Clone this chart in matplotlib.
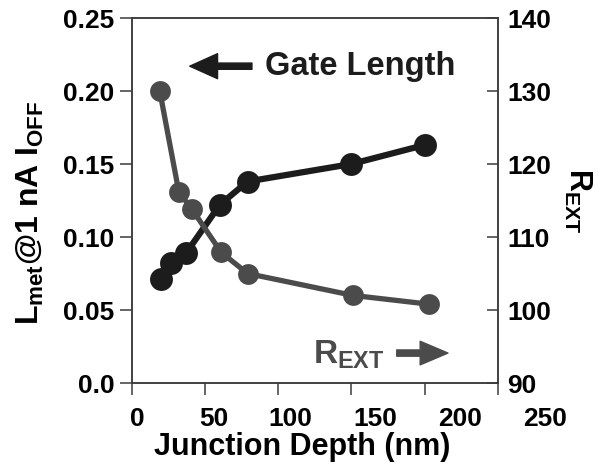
import numpy as np
import matplotlib
matplotlib.use('Agg')
import matplotlib.pyplot as plt
import matplotlib.transforms as mtransforms

plt.rcParams['font.family'] = ['Liberation Sans', 'DejaVu Sans']
plt.rcParams['font.weight'] = 'bold'
plt.rcParams['axes.labelweight'] = 'bold'
plt.rcParams['mathtext.fontset'] = 'custom'
plt.rcParams['mathtext.rm'] = 'Liberation Sans:bold'
plt.rcParams['mathtext.it'] = 'Liberation Sans:bold'
plt.rcParams['mathtext.bf'] = 'Liberation Sans:bold'

# data
depth_gate = [20, 27, 37, 60, 79, 150, 200]
gate_length = [0.071, 0.082, 0.089, 0.122, 0.138, 0.150, 0.163]

depth_rext = [19, 32, 41, 61, 79, 151, 203]
rext = [130.0, 116.2, 113.8, 107.9, 105.0, 102.0, 100.8]

x_ticks = [0, 50, 100, 150, 200, 250]
left_ticks = [0.0, 0.05, 0.10, 0.15, 0.20, 0.25]
left_labels = ['0.0', '0.05', '0.10', '0.15', '0.20', '0.25']
right_ticks = [90, 100, 110, 120, 130, 140]

black = '#1c1c1c'
gray = '#4b4b4b'
spine_c = '#3c3c3c'

fig = plt.figure(figsize=(6.01, 4.70), dpi=100)
ax = fig.add_axes([0.2196, 0.1851, 0.6085, 0.7766])
ax2 = ax.twinx()

# gate length on the left axis
ax.plot(depth_gate, gate_length, color=black, lw=4.5, marker='o', ms=16.5,
        markeredgewidth=0, solid_capstyle='round')
# R_EXT on the right axis
ax2.plot(depth_rext, rext, color=gray, lw=3.8, marker='o', ms=15,
         markeredgewidth=0, solid_capstyle='round')

ax.set_xlim(0, 250)
ax.set_ylim(0, 0.25)
ax2.set_ylim(90, 140)

ax.set_xticks(x_ticks)
ax.set_xticklabels([str(t) for t in x_ticks])
ax.set_yticks(left_ticks)
ax.set_yticklabels(left_labels)
ax2.set_yticks(right_ticks)

ax.tick_params(axis='both', direction='out', length=8.5, width=1.1, color=spine_c,
               labelsize=19, pad=4)
ax.tick_params(axis='x', pad=9)
ax2.tick_params(axis='y', direction='in', length=8, width=1.1, color=spine_c,
                labelsize=19, pad=7)

# the x tick labels in the original drift to the right of their ticks
label_shift_px = [5, 9, 12, 24, 36, 47]
for lab, dx in zip(ax.get_xticklabels(), label_shift_px):
    lab.set_transform(lab.get_transform() +
                      mtransforms.ScaledTranslation(dx / 100, 0, fig.dpi_scale_trans))

for a in (ax, ax2):
    for s in a.spines.values():
        s.set_color(spine_c)
        s.set_linewidth(1.1)

ax.set_xlabel('Junction Depth (nm)', fontsize=22)
ax.xaxis.set_label_coords(0.466, -0.135)
ax.set_ylabel(r'$L_{met}$@1 nA $I_{OFF}$', fontsize=23)
ax.yaxis.set_label_coords(-0.235, 0.466)
ax2.set_ylabel(r'$R_{EXT}$', fontsize=22, rotation=270, labelpad=30)

# arrow annotations
ax.annotate('', xy=(39.5, 0.217), xytext=(82, 0.217),
            arrowprops=dict(color=black, width=4.5, headwidth=18, headlength=20, shrink=0))
ax.text(91, 0.217, 'Gate Length', fontsize=23.5, color=black, va='center', ha='left')

ax2.text(123.5, 92.7, r'$R_{EXT}$', fontsize=24, color=gray, va='baseline', ha='left')
ax2.annotate('', xy=(216, 94.1), xytext=(181, 94.1),
             arrowprops=dict(color=gray, width=4.5, headwidth=17, headlength=20, shrink=0))

fig.savefig('out.png', dpi=100)
